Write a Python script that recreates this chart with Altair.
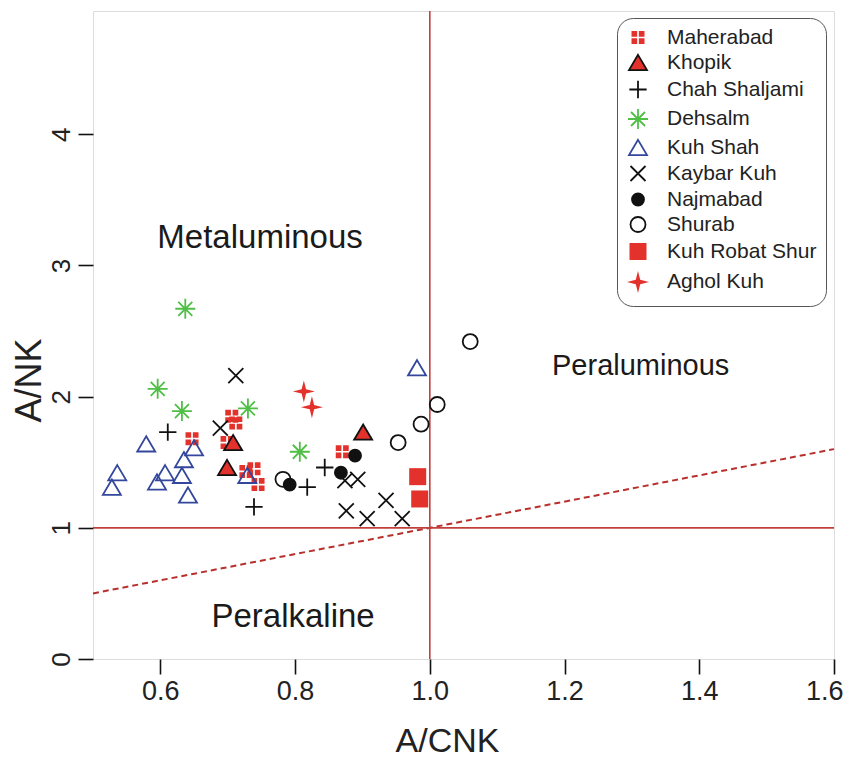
import altair as alt
import pandas as pd

# ---- data ----
groups = ["Maherabad", "Khopik", "Chah Shaljami", "Dehsalm", "Kuh Shah",
          "Kaybar Kuh", "Najmabad", "Shurab", "Kuh Robat Shur", "Aghol Kuh"]

maherabad_x = [0.706, 0.712, 0.647, 0.699, 0.727, 0.739, 0.745, 0.870]
maherabad_y = [1.85, 1.80, 1.68, 1.65, 1.43, 1.45, 1.33, 1.58]
khopik_x = [0.708, 0.699, 0.901]
khopik_y = [1.65, 1.46, 1.73]
chah_x = [0.611, 0.739, 0.844, 0.818]
chah_y = [1.73, 1.16, 1.46, 1.31]
dehsalm_x = [0.637, 0.596, 0.632, 0.730, 0.807]
dehsalm_y = [2.67, 2.06, 1.89, 1.91, 1.58]
kuhshah_x = [0.579, 0.536, 0.528, 0.595, 0.607, 0.632, 0.635, 0.650, 0.641, 0.729, 0.981]
kuhshah_y = [1.64, 1.42, 1.31, 1.35, 1.42, 1.40, 1.52, 1.61, 1.25, 1.40, 2.22]
kaybar_x = [0.712, 0.689, 0.874, 0.893, 0.876, 0.907, 0.935, 0.959]
kaybar_y = [2.16, 1.76, 1.36, 1.37, 1.13, 1.07, 1.21, 1.07]
najmabad_x = [0.792, 0.868, 0.889]
najmabad_y = [1.33, 1.42, 1.55]
shurab_x = [0.782, 0.953, 0.987, 1.011, 1.060]
shurab_y = [1.37, 1.65, 1.79, 1.94, 2.42]
robat_x = [0.982, 0.985]
robat_y = [1.39, 1.22]
aghol_x = [0.813, 0.825]
aghol_y = [2.04, 1.92]

series_x = [maherabad_x, khopik_x, chah_x, dehsalm_x, kuhshah_x,
            kaybar_x, najmabad_x, shurab_x, robat_x, aghol_x]
series_y = [maherabad_y, khopik_y, chah_y, dehsalm_y, kuhshah_y,
            kaybar_y, najmabad_y, shurab_y, robat_y, aghol_y]

# reference lines
ref_diag_x = [0.5, 1.6]
ref_diag_y = [0.5, 1.6]
ref_vline = [1.0]
ref_hline = [1.0]

region_labels = ["Metaluminous", "Peraluminous", "Peralkaline"]
region_x = [0.748, 1.313, 0.797]
region_y = [3.21, 2.23, 0.32]
region_size = [33, 29, 33]

x_ticks = [0.6, 0.8, 1.0, 1.2, 1.4, 1.6]
y_ticks = [0, 1, 2, 3, 4]

# ---- styling ----
RED = "#e2322b"
GREEN = "#4fbf46"
BLUE = "#33479c"
BLACK = "#111111"
LINE_RED = "#c2403c"
FONT = "Liberation Sans"

circle_path = "M1,0A1,1,0,1,1,-1,0A1,1,0,1,1,1,0Z"
tri_path = "M0,-0.85L1,0.85L-1,0.85Z"
shapes = [
    "M-1,-1H-0.13V-0.13H-1Z M0.13,-1H1V-0.13H0.13Z M-1,0.13H-0.13V1H-1Z M0.13,0.13H1V1H0.13Z",
    tri_path,
    "M-1,0H1M0,-1V1",
    "M-1,0H1M0,-1V1M-0.7,-0.7L0.7,0.7M-0.7,0.7L0.7,-0.7",
    tri_path,
    "M-1,-1L1,1M-1,1L1,-1",
    circle_path,
    circle_path,
    "M-1,-1H1V1H-1Z",
    "M0,-1L0.2,-0.2L1,0L0.2,0.2L0,1L-0.2,0.2L-1,0L-0.2,-0.2Z",
]
fills = [RED, RED, "transparent", "transparent", "transparent",
         "transparent", BLACK, "transparent", RED, RED]
strokes = ["transparent", BLACK, BLACK, GREEN, BLUE,
           BLACK, BLACK, BLACK, "transparent", "transparent"]
sizes = [169, 324, 300, 400, 324, 225, 144, 225, 289, 484]

rows = []
for g, xs, ys in zip(groups, series_x, series_y):
    for xv, yv in zip(xs, ys):
        rows.append({"group": g, "x": xv, "y": yv})
df = pd.DataFrame(rows)

xscale = alt.Scale(domain=[0.5, 1.6], nice=False, zero=False)
yscale = alt.Scale(domain=[0, 4.94], nice=False, zero=False)

x_axis = alt.Axis(values=x_ticks, format=".1f", title="A/CNK", grid=False, domain=False,
                  tickSize=15, tickWidth=1.6, tickColor=BLACK, labelFontSize=27,
                  labelFont=FONT, labelColor="#222", labelPadding=4,
                  labelFlush=True, labelFlushOffset=9,
                  titleFontSize=34, titleFont=FONT, titleFontWeight="normal",
                  titleColor="#222", titleX=354, titleY=82, titleBaseline="middle",
                  titleAlign="center")
y_axis = alt.Axis(values=y_ticks, format="d", title="A/NK", grid=False, domain=False,
                  tickSize=15, tickWidth=1.6, tickColor=BLACK, labelFontSize=26,
                  labelFont=FONT, labelColor="#222", labelPadding=4, labelAngle=270,
                  labelAlign="center", labelBaseline="bottom",
                  titleFontSize=36, titleFont=FONT, titleFontWeight="normal",
                  titleColor="#222", titleX=-64, titleY=369, titleAngle=270,
                  titleBaseline="middle", titleAlign="center")

legend = alt.Legend(title=None, orient="none", legendX=524, legendY=7,
                    labelFontSize=21, labelFont=FONT, labelColor="#222",
                    strokeColor="#555", cornerRadius=16, fillColor="white",
                    padding=9, rowPadding=3, labelOffset=17, symbolStrokeWidth=1.8)

points = alt.Chart(df).mark_point(opacity=1, strokeWidth=1.8, filled=False).encode(
    x=alt.X("x:Q", scale=xscale, axis=x_axis),
    y=alt.Y("y:Q", scale=yscale, axis=y_axis),
    shape=alt.Shape("group:N", scale=alt.Scale(domain=groups, range=shapes), legend=legend),
    fill=alt.Fill("group:N", scale=alt.Scale(domain=groups, range=fills), legend=legend),
    stroke=alt.Stroke("group:N", scale=alt.Scale(domain=groups, range=strokes), legend=legend),
    size=alt.Size("group:N", scale=alt.Scale(type="ordinal", domain=groups, range=sizes), legend=legend),
)

vline = alt.Chart(pd.DataFrame({"v": ref_vline})).mark_rule(
    color=LINE_RED, strokeWidth=1.6).encode(x=alt.X("v:Q", scale=xscale))
hline = alt.Chart(pd.DataFrame({"h": ref_hline})).mark_rule(
    color=LINE_RED, strokeWidth=1.6).encode(y=alt.Y("h:Q", scale=yscale))
diag = alt.Chart(pd.DataFrame({"x": ref_diag_x, "y": ref_diag_y})).mark_line(
    color="#b8302c", strokeWidth=2, strokeDash=[6, 4]).encode(
    x=alt.X("x:Q", scale=xscale), y=alt.Y("y:Q", scale=yscale))

label_layers = []
for t, lx, ly, fs in zip(region_labels, region_x, region_y, region_size):
    label_layers.append(
        alt.Chart(pd.DataFrame({"t": [t], "x": [lx], "y": [ly]})).mark_text(
            font=FONT, fontSize=fs, color="#1a1a1a", align="center", baseline="middle").encode(
            x=alt.X("x:Q", scale=xscale), y=alt.Y("y:Q", scale=yscale), text="t:N")
    )

chart = alt.layer(diag, vline, hline, *label_layers, points).properties(
    width=741, height=648,
    autosize=alt.AutoSizeParams(type="none"),
    padding={"left": 85, "top": 3, "right": 10, "bottom": 100},
).configure_view(stroke="#222", strokeWidth=2).configure(background="white")

chart.save("out.html", embed_options={"renderer": "svg", "actions": False})
